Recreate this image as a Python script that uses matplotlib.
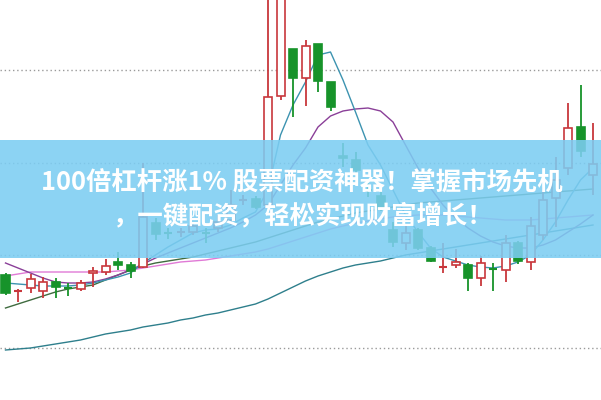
# k-line chart with moving averages and an advert banner on top

import matplotlib.pyplot as plt
from matplotlib.patches import Rectangle

plt.rcParams['font.family'] = ['Noto Sans CJK SC', 'DejaVu Sans']

opens = [125, 109, 112, 109, 118, 112.5, 111, 127, 128, 138, 135,
         133, 177, 167.5, 168, 168, 167.5, 172, 180, 200, 201,
         195, 304, 351, 322, 356, 318, 244, 240, 210.5, 204,
         170, 157, 170, 152, 133, 135, 135, 122, 131.5, 130,
         157, 138, 165, 202, 232, 273, 225]
highs = [127, 111, 126, 123, 122, 117, 120, 133, 141, 148, 138,
         237, 182, 172, 172, 178, 172, 185, 210, 205, 204,
         410, 425, 351, 360, 356, 318, 257, 248, 217, 208,
         178, 175, 172, 154, 157, 151, 137, 144, 137, 165,
         159, 183, 213, 243, 297, 315, 277]
lows = [105, 98, 107, 102, 102, 104, 109, 113, 125, 130, 122,
        132, 160, 161, 163, 165, 157, 168, 175, 195, 191,
        195, 300, 283, 294, 308, 289, 233, 223, 203, 189,
        153, 150, 150, 138, 127, 132, 109, 114, 109, 118,
        136, 130, 160, 173, 225, 243, 205]
closes = [107, 110, 121, 118, 113, 112, 117, 129, 134, 135, 129,
          183, 166, 167, 168.5, 174, 167, 178, 195, 200.5, 193,
          303, 415, 322, 354, 319, 293, 242, 230, 210, 192,
          158, 167, 152, 139, 133.5, 138, 122, 137, 131, 157,
          139, 174, 200, 220, 272, 249, 236]

ma5 = [117, 116, 115, 114, 114, 114, 115, 117, 120, 123, 127,
       137, 145, 153, 160, 167, 170, 171, 175, 182, 188,
       210, 265, 295, 318, 345, 348, 320, 288, 255, 235,
       210, 185, 168, 152, 143, 139, 135, 133, 132, 134,
       138, 145, 160, 178, 200, 220, 232]
ma10 = [137, 132, 127, 122, 118, 117, 117, 118, 121, 125, 130,
        136, 142, 147, 152, 157, 162, 167, 172, 178, 185,
        195, 215, 235, 252, 273, 284, 289, 291, 292, 289,
        278, 255, 232, 212, 195, 182, 172, 164, 158, 154,
        152, 152, 155, 160, 168, 176, 185]
ma20 = [124, 126, 128, 128, 128, 128, 128, 128, 128, 129, 130,
        132, 134, 136, 138, 139, 140, 142, 144, 146, 148,
        151, 155, 159, 163, 167, 171, 174, 177, 179, 181,
        183, 184, 185, 185, 185, 184, 183, 182, 181, 180,
        180, 180, 181, 182, 183, 184, 185]
ma30 = [92, 96, 100, 104, 108, 111, 113, 115, 120, 125, 130,
        134, 137, 139, 141, 143, 146, 149, 152, 155, 158,
        162, 166, 170, 174, 178, 181, 184, 187, 189, 191,
        193, 195, 197, 198, 199, 200, 201, 202, 203, 204,
        205, 206, 207, 208, 209, 210, 211]
ma60 = [50, 51, 52, 54, 56, 58, 60, 63, 66, 68, 70,
        73, 75, 77, 80, 82, 85, 87, 90, 93, 96,
        101, 107, 113, 119, 124, 128, 132, 135, 137, 139,
        142, 145, 147, 149, 151, 153, 155, 157, 159, 161,
        163, 165, 167, 169, 171, 173, 175]

grid_levels = [52, 145, 237, 330]

line1 = '100倍杠杆涨1% 股票配资神器！掌握市场先机'
line2 = '，一键配资，轻松实现财富增长！'

red = '#c8373c'
green = '#17932a'

fig = plt.figure(figsize=(6.01, 4.0), dpi=100)
ax = fig.add_axes([0, 0, 1, 1])
ax.set_xlim(-0.44, 47.64)
ax.set_ylim(0, 400)
ax.axis('off')

for g in grid_levels:
    ax.axhline(g, color='#9a9a9a', lw=1, ls=(0, (1, 2)), zorder=0)

idx = list(range(len(opens)))
ax.plot(idx, ma60, color='#2e7f8c', lw=1.0, zorder=1)
ax.plot(idx, ma30, color='#3f6b3f', lw=1.0, zorder=1)
ax.plot(idx, ma20, color='#e07ad6', lw=1.0, zorder=1)
ax.plot(idx, ma10, color='#8a3f98', lw=1.0, zorder=1)
ax.plot(idx, ma5, color='#3c93b0', lw=1.0, zorder=1)

for i in idx:
    o, h, l, c = opens[i], highs[i], lows[i], closes[i]
    up = c >= o
    col = red if up else green
    ax.vlines(i, l, h, color=col, lw=1.3, zorder=2)
    lo, hi = min(o, c), max(o, c)
    if hi - lo < 1.5:
        ax.hlines((o + c) / 2, i - 0.32, i + 0.32, color=col, lw=1.5, zorder=3)
    else:
        ax.add_patch(Rectangle((i - 0.32, lo), 0.64, hi - lo,
                               facecolor='white' if up else col,
                               edgecolor=col, lw=1.2, zorder=3))

fig.add_artist(Rectangle((0, 0.355), 1, 0.295, transform=fig.transFigure,
                         facecolor='#7ccdf2', alpha=0.88, edgecolor='none',
                         zorder=5))
fig.text(0.502, 0.543, line1, color='white', fontsize=18.3, fontweight='bold',
         ha='center', va='center', zorder=6)
fig.text(0.505, 0.46, line2, color='white', fontsize=18.3, fontweight='bold',
         ha='center', va='center', zorder=6)

fig.savefig('out.png', dpi=100)
